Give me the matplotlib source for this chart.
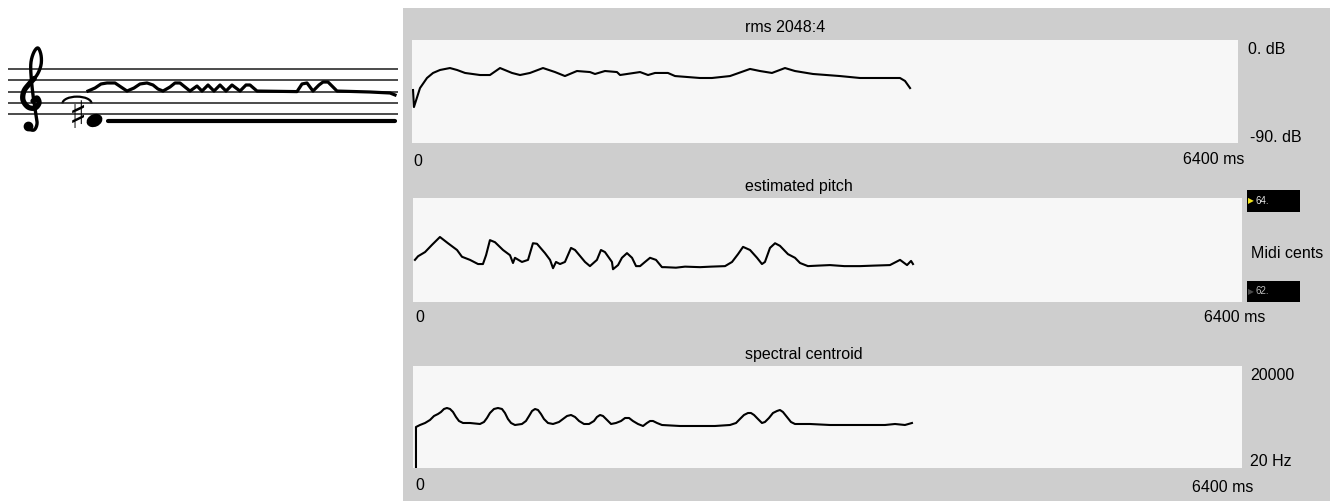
import matplotlib
matplotlib.use("Agg")
import matplotlib.pyplot as plt
from matplotlib.patches import Rectangle, Arc
from matplotlib.markers import MarkerStyle
from matplotlib.transforms import Affine2D
import numpy as np

plt.rcParams['font.family'] = ['Liberation Sans', 'DejaVu Sans']

# ---------------- data ----------------
rms_ms = [8, 15, 62, 116, 163, 217, 294, 349, 411, 527, 604, 682, 775, 837, 914,
          1015, 1108, 1185, 1278, 1379, 1418, 1495, 1588, 1612, 1767, 1829, 1883,
          1983, 2038, 2231, 2324, 2464, 2619, 2696, 2789, 2890, 2967, 3107, 3316,
          3471, 3781, 3820, 3859]
rms_db = [-43.7, -58.6, -42.0, -33.2, -28.8, -26.2, -24.5, -26.2, -28.8, -30.6,
          -30.6, -24.5, -28.8, -30.6, -28.8, -24.5, -28.0, -31.5, -27.1, -28.0,
          -29.7, -27.1, -28.0, -30.6, -28.0, -30.6, -28.8, -28.8, -31.5, -33.2,
          -33.2, -31.5, -25.3, -27.1, -28.8, -24.5, -27.1, -29.7, -31.5, -33.2,
          -33.2, -35.8, -42.0]

pitch_ms = [15, 39, 93, 147, 208, 270, 340, 378, 440, 502, 540, 564, 594, 633,
            695, 749, 772, 787, 841, 888, 926, 957, 1019, 1058, 1081, 1104, 1135,
            1173, 1220, 1251, 1328, 1366, 1420, 1451, 1482, 1536, 1544, 1583, 1613,
            1652, 1691, 1722, 1753, 1791, 1830, 1876, 1922, 1945, 2030, 2100, 2216,
            2300, 2409, 2463, 2509, 2548, 2602, 2656, 2694, 2717, 2756, 2795, 2833,
            2895, 2949, 2988, 3049, 3130, 3219, 3330, 3451, 3560, 3682, 3760, 3814,
            3845, 3860]
pitch_midi = [62.81, 62.88, 62.96, 63.10, 63.25, 63.13, 63.00, 62.87, 62.81, 62.73,
              62.73, 62.90, 63.19, 63.15, 63.00, 62.90, 62.75, 62.85, 62.77, 62.81,
              63.13, 63.12, 62.94, 62.81, 62.65, 62.77, 62.73, 62.77, 63.04, 63.00,
              62.77, 62.69, 62.81, 63.00, 62.96, 62.77, 62.63, 62.71, 62.85, 62.94,
              62.85, 62.69, 62.69, 62.77, 62.85, 62.81, 62.67, 62.67, 62.66, 62.68,
              62.67, 62.68, 62.69, 62.77, 62.92, 63.06, 63.00, 62.85, 62.73, 62.77,
              63.04, 63.13, 63.08, 62.92, 62.85, 62.75, 62.69, 62.70, 62.71, 62.69,
              62.69, 62.70, 62.71, 62.81, 62.71, 62.79, 62.73]

cent_ms = [23, 23, 54, 93, 131, 162, 193, 216, 239, 262, 286, 309, 332, 355, 386,
           440, 517, 548, 571, 594, 625, 656, 687, 710, 733, 757, 787, 841, 872,
           896, 919, 942, 965, 988, 1011, 1042, 1081, 1127, 1158, 1189, 1220, 1251,
           1282, 1320, 1359, 1397, 1420, 1444, 1467, 1498, 1529, 1567, 1606, 1637,
           1668, 1698, 1737, 1776, 1806, 1830, 1853, 1884, 1922, 2061, 2216, 2331,
           2447, 2494, 2524, 2555, 2586, 2609, 2633, 2663, 2694, 2717, 2748, 2779,
           2810, 2833, 2856, 2887, 2918, 2949, 3065, 3219, 3374, 3528, 3644, 3721,
           3798, 3852]
cent_hz = [20, 8052, 8444, 8836, 9423, 10207, 10598, 10990, 11578, 11774, 11578,
           10990, 10011, 9227, 8836, 8836, 8640, 9031, 9815, 10794, 11578, 11774,
           11578, 10794, 9619, 8836, 8444, 8640, 9227, 10207, 11186, 11578, 11382,
           10598, 9619, 8836, 8640, 9031, 9619, 10207, 10403, 10011, 9227, 8640,
           8640, 9227, 10011, 10403, 10207, 9423, 8640, 8836, 9227, 9815, 9815,
           9227, 8640, 8248, 8836, 9227, 9227, 8836, 8444, 8248, 8248, 8248, 8444,
           8836, 9619, 10403, 10794, 10794, 10403, 9619, 8836, 9031, 9815, 10794,
           11186, 11382, 10990, 10011, 9031, 8640, 8640, 8444, 8444, 8444, 8444,
           8640, 8444, 8836]

panel_titles = ["rms 2048:4", "estimated pitch", "spectral centroid"]
time_range = [0, 6400]
rms_range = [-90, 0]
pitch_range = [62, 64]
cent_range = [20, 20000]

# notation: staff positions (0 = E4 bottom line, step = half a line spacing)
staff_lines = [0, 2, 4, 6, 8]
contour_x = [88, 95, 101, 107, 115, 121, 127, 134, 140, 147, 153, 158, 163, 170,
             175, 180, 185, 190, 197, 202, 208, 214, 220, 226, 232, 240, 246, 250,
             257, 297, 302, 307, 313, 319, 323, 328, 333, 337, 370, 390, 395]
contour_pos = [4.1, 4.64, 5.36, 5.54, 5.54, 4.82, 4.1, 4.64, 5.36, 5.54, 5.18,
               4.46, 4.1, 4.82, 5.54, 5.54, 4.82, 4.1, 5.0, 4.1, 5.18, 4.1, 5.18,
               4.1, 5.18, 4.1, 5.18, 5.18, 4.1, 4.0, 5.36, 5.54, 4.1, 5.18, 5.71,
               5.71, 4.82, 4.1, 3.93, 3.75, 3.4]
held_x = [108, 395]
held_pos = [-1.25, -1.25]
note_x = [94]
note_pos = [-1.07]

# ---------------- layout ----------------
W, H = 1330, 501
fig = plt.figure(figsize=(W / 100, H / 100), dpi=100)
fig.patch.set_facecolor('white')

def fx(px):
    return px / W

def fy(py):
    return 1 - py / H

GRAY = '#cecece'
PANEL = '#f7f7f7'

fig.patches.append(Rectangle((fx(403), 0), 1 - fx(403), fy(8), transform=fig.transFigure,
                             facecolor=GRAY, edgecolor='none', zorder=-5))

def panel(l, t, r, b):
    ax = fig.add_axes([fx(l), fy(b), (r - l) / W, (b - t) / H])
    ax.set_facecolor(PANEL)
    for s in ax.spines.values():
        s.set_visible(False)
    ax.set_xticks([])
    ax.set_yticks([])
    ax.set_xlim(*time_range)
    return ax

ax1 = panel(412, 40, 1238, 143)
ax1.plot(rms_ms, rms_db, color='black', lw=1.5, solid_joinstyle='round')
ax1.set_ylim(*rms_range)

ax2 = panel(413, 198, 1242, 302)
ax2.plot(pitch_ms, pitch_midi, color='black', lw=1.5, solid_joinstyle='round')
ax2.set_ylim(*pitch_range)

ax3 = panel(413, 366, 1242, 468)
ax3.plot(cent_ms, cent_hz, color='black', lw=1.5, solid_joinstyle='round')
ax3.set_ylim(*cent_range)

FS = 11.5
def ftxt(px, py, s, ha='left', **kw):
    kw.setdefault('fontsize', FS)
    fig.text(fx(px), fy(py), s, ha=ha, va='center', color='black', **kw)

ftxt(745, 27, panel_titles[0])
ftxt(745, 187, panel_titles[1])
ftxt(745, 355, panel_titles[2])

ftxt(413, 161, "0")
ftxt(415, 317, "0")
ftxt(415, 486, "0")
ftxt(1183, 160, "6400 ms")
ftxt(1204, 318, "6400 ms")
ftxt(1192, 487, "6400 ms")

ftxt(1248, 49, "0. dB")
ftxt(1250, 138, "-90. dB")
ftxt(1251, 253, "Midi cents")
ftxt(1250, 376, "20000")
ftxt(1250, 461, "20 Hz")

# number boxes
for top, bot, label, tri_col, txt_col in [(190, 212, "64.", '#f2e31b', '#e8e8e8'),
                                          (281, 302, "62.", '#4a4a4a', '#bdbdbd')]:
    fig.patches.append(Rectangle((fx(1247), fy(bot)), 53 / W, (bot - top) / H,
                                 transform=fig.transFigure, facecolor='black',
                                 edgecolor='none', zorder=1))
    mid = (top + bot) / 2
    fig.text(fx(1248), fy(mid), "\u25B6", fontsize=5.5, color=tri_col, ha='left',
             va='center', family=['DejaVu Sans'])
    fig.text(fx(1256), fy(mid), label, fontsize=7, color=txt_col, ha='left', va='center')

# ---------------- notation ----------------
sax = fig.add_axes([0, fy(140), 400 / W, 100 / H])
sax.set_xlim(0, 400)
sax.set_ylim((114 - 140) / 5.6, (114 - 40) / 5.6)
sax.axis('off')
for p in staff_lines:
    sax.plot([8, 398], [p, p], color='#1a1a1a', lw=1.1, solid_capstyle='butt')
sax.plot(contour_x, contour_pos, color='black', lw=2.3, solid_joinstyle='round')
sax.plot(held_x, held_pos, color='black', lw=3.0, solid_capstyle='round')
head = MarkerStyle('o', transform=Affine2D().scale(1.35, 1.0).rotate_deg(25))
sax.plot(note_x, note_pos, linestyle='none', marker=head, ms=8, color='black')
sax.text(78, -0.75, "\u266F", fontsize=27, ha='center', va='center', color='black',
         family=['DejaVu Sans'])
sax.add_patch(Arc((77, 1.9), 29, 2.4, theta1=0, theta2=180, color='black', lw=1.6))

# treble clef (no installed font has U+1D11E): drawn as a smooth stroke
clef_px = np.array([(33, 101), (37, 98), (39, 103), (35, 108), (28, 107), (23, 100),
                    (24, 91), (30, 83), (37, 75), (41, 65), (41, 55), (38, 48),
                    (34, 52), (31, 62), (31, 75), (33, 95), (36, 115), (37, 124),
                    (34, 130), (28, 129)], dtype=float)

def catmull(pts, n=12):
    out = []
    P = np.vstack([pts[0], pts, pts[-1]])
    for i in range(1, len(P) - 2):
        p0, p1, p2, p3 = P[i - 1], P[i], P[i + 1], P[i + 2]
        for t in np.linspace(0, 1, n, endpoint=False):
            t2, t3 = t * t, t * t * t
            out.append(0.5 * ((2 * p1) + (-p0 + p2) * t + (2 * p0 - 5 * p1 + 4 * p2 - p3) * t2
                              + (-p0 + 3 * p1 - 3 * p2 + p3) * t3))
    out.append(pts[-1])
    return np.array(out)

cs = catmull(clef_px)
cx, cpos = cs[:, 0], (114 - cs[:, 1]) / 5.6
sax.plot(cx, cpos, color='black', lw=2.4, solid_capstyle='round', solid_joinstyle='round')
belly = (cs[:, 1] > 78) & (cs[:, 1] < 110) & (np.arange(len(cs)) < 9 * 12)
sax.plot(cx[belly], cpos[belly], color='black', lw=3.8, solid_capstyle='round')
sax.plot([27.5], [(114 - 125.5) / 5.6], marker='o', ms=6, color='black', linestyle='none')

fig.savefig("out.png", dpi=100)
